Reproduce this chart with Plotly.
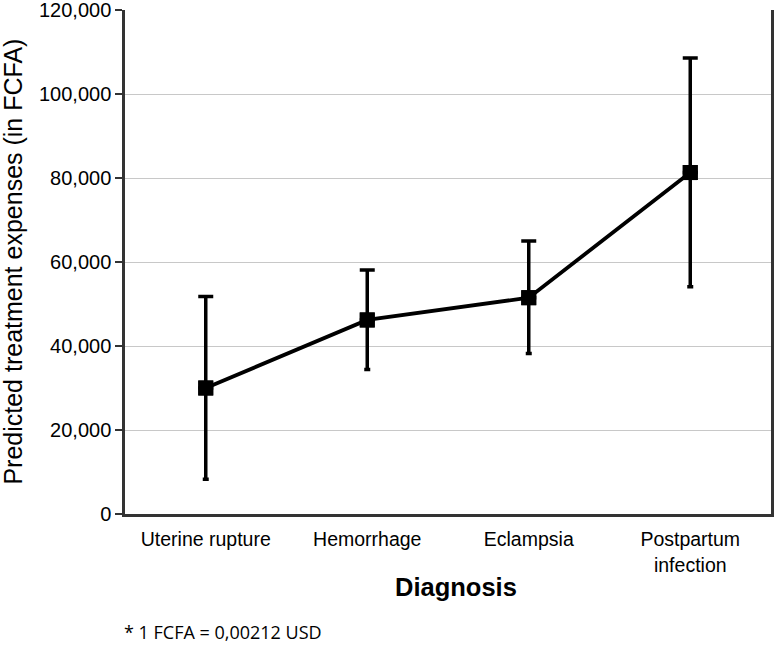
import plotly.graph_objects as go

categories = ["Uterine rupture", "Hemorrhage", "Eclampsia", "Postpartum infection"]
tick_labels = ["Uterine rupture", "Hemorrhage", "Eclampsia", "Postpartum<br>infection"]
predicted = [30000, 46200, 51500, 81300]
upper_ci = [51800, 58100, 65000, 108600]
lower_ci = [8300, 34400, 38200, 54100]

err_plus = [u - p for u, p in zip(upper_ci, predicted)]
err_minus = [p - l for p, l in zip(predicted, lower_ci)]
zeros = [0] * len(predicted)

fig = go.Figure()
fig.add_trace(go.Scatter(
    x=categories, y=predicted, mode="lines+markers",
    line=dict(color="black", width=3.8),
    marker=dict(symbol="square", size=15, color="black"),
    error_y=dict(type="data", array=err_plus, arrayminus=zeros, symmetric=False,
                 color="black", thickness=3.5, width=7.5),
    showlegend=False, hoverinfo="skip",
))
fig.add_trace(go.Scatter(
    x=categories, y=predicted, mode="markers",
    marker=dict(symbol="square", size=15, color="black"),
    error_y=dict(type="data", array=zeros, arrayminus=err_minus, symmetric=False,
                 color="black", thickness=3.5, width=3),
    showlegend=False, hoverinfo="skip",
))

fig.update_layout(
    width=774, height=645,
    margin=dict(l=125, r=3, t=10, b=131, autoexpand=False),
    paper_bgcolor="white", plot_bgcolor="white",
    font=dict(family="Liberation Sans, Arial, sans-serif", color="black", size=20),
    xaxis=dict(
        tickmode="array", tickvals=categories, ticktext=tick_labels,
        showgrid=False, showline=True, linecolor="#333333", linewidth=2.5,
        mirror=False, ticks="", tickfont=dict(size=19.5), automargin=False,
        range=[-0.5, 3.5], ticklabelstandoff=6,
    ),
    yaxis=dict(
        range=[0, 120000], tickvals=[0, 20000, 40000, 60000, 80000, 100000, 120000],
        ticktext=["0", "20,000", "40,000", "60,000", "80,000", "100,000", "120,000"],
        showgrid=True, gridcolor="#c8c8c8", gridwidth=1.2,
        showline=True, linecolor="#333333", linewidth=2.5, mirror=True,
        ticks="outside", ticklen=7, tickcolor="#333333", tickwidth=1.5,
        tickfont=dict(size=20), zeroline=False, automargin=False,
        ticklabeloverflow="allow",
    ),
    annotations=[
        dict(text="Predicted treatment expenses (in FCFA)", textangle=-90,
             xref="paper", yref="paper", x=-0.174, y=0.5, xanchor="center", yanchor="middle",
             showarrow=False, font=dict(size=25)),
        dict(text="<b>Diagnosis</b>", xref="paper", yref="paper",
             x=0.512, y=-0.144, xanchor="center", yanchor="middle",
             showarrow=False, font=dict(size=25.5)),
        dict(text="* 1 FCFA = 0,00212 USD", xref="paper", yref="paper",
             x=-0.004, y=-0.235, xanchor="left", yanchor="middle",
             showarrow=False, font=dict(size=18, family="Open Sans, sans-serif")),
    ],
)

fig.write_html("out.html", config={"displayModeBar": False},
               post_script="document.body.style.margin='0';")
